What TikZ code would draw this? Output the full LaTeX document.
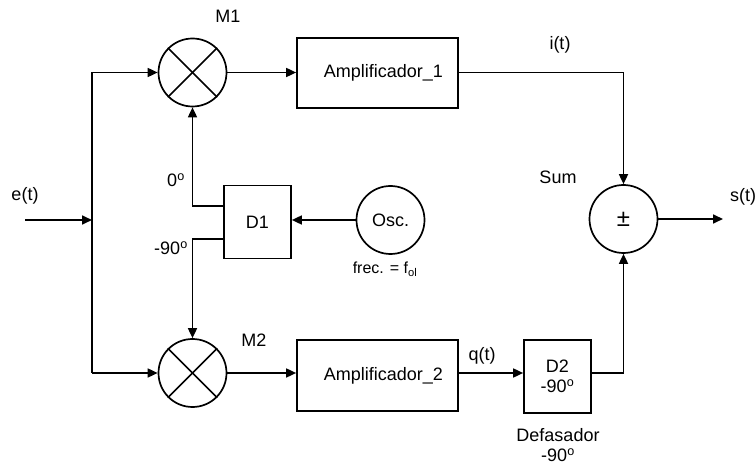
\documentclass[tikz,border=0pt]{standalone}
\usepackage{fontspec}
\setmainfont{Liberation Sans}
\usetikzlibrary{arrows.meta}
\begin{document}
\begin{tikzpicture}[x=1pt,y=-1pt,
  every node/.style={font=\fontsize{18}{21}\selectfont},
  wire/.style={line width=1.7pt},
  arr/.style={wire,-{Triangle[length=10pt,width=9pt]}},
  blk/.style={draw,line width=1.7pt,rectangle,inner sep=0pt},
  rnd/.style={draw,line width=1.7pt,circle,inner sep=0pt,minimum size=68pt},
  lbl/.style={inner sep=1pt}]
\useasboundingbox (0,0) rectangle (756,465);
% mixers
\node[rnd] (m1) at (192.5,72.5) {};
\node[rnd] (m2) at (192.5,373) {};
\foreach \m in {m1,m2}{
  \draw[wire] (\m.45) -- (\m.225);
  \draw[wire] (\m.135) -- (\m.315);
}
% blocks
\node[blk,minimum width=161pt,minimum height=70pt] (a1) at (377.5,73) {\hspace{12pt}Amplificador\_1};
\node[blk,minimum width=161pt,minimum height=71pt] (a2) at (377.5,375.5) {\hspace{12pt}Amplificador\_2};
\node[blk,minimum width=67pt,minimum height=73pt] (d1) at (257.5,222) {D1};
\node[blk,minimum width=67pt,minimum height=73pt,align=center] (d2) at (557.5,376.5) {D2\\[-1pt]-90\textsuperscript{o}};
\node[rnd] (osc) at (390.5,220) {Osc.};
\node[rnd] (sum) at (623.5,219) {\fontsize{24}{24}\selectfont ±};
% labels
\node[lbl] (lm1) at (228,16) {M1};
\node[lbl] (lm2) at (254,340) {M2};
\node[lbl] (le) at (25,196) {e(t)};
\node[lbl] (l0) at (176,180) {0\textsuperscript{o}};
\node[lbl] (l90) at (171,248) {-90\textsuperscript{o}};
\node[lbl] (li) at (560,45) {i(t)};
\node[lbl] (lsum) at (558,177) {Sum};
\node[lbl] (ls) at (743,197) {s(t)};
\node[lbl] (lf) at (385,269) {\fontsize{16}{18}\selectfont frec. = f\textsubscript{ol}};
\node[lbl] (lq) at (482,356) {q(t)};
\node[lbl,align=center] (ldef) at (558,445) {Defasador\\[-1pt]-90\textsuperscript{o}};
% coordinates
\coordinate (in) at (25,220);
\coordinate (jm) at (92,220);
\coordinate (j1) at (92,72.5);
\coordinate (j2) at (92,373);
\coordinate (d1a) at (224,206);
\coordinate (d1b) at (224,239);
\coordinate (out) at (723,219);
% connectors
\draw[arr] (in) -- (jm);
\draw[wire] (j1) -- (j2);
\draw[arr] (j1) -- (m1.west);
\draw[arr] (j2) -- (m2.west);
\draw[arr] (m1.east) -- (m1.east -| a1.west);
\draw[arr] (m2.east) -- (m2.east -| a2.west);
\draw[arr] (d1a) -| (m1.south);
\draw[arr] (d1b) -| (m2.north);
\draw[arr] (osc.west) -- (osc.west -| d1.east);
\draw[arr] (a1.east |- m1.east) -| (sum.north);
\draw[arr] (a2.east |- m2.east) -- (m2.east -| d2.west);
\draw[arr] (d2.east |- m2.east) -| (sum.south);
\draw[arr] (sum.east) -- (out);
\end{tikzpicture}
\end{document}
